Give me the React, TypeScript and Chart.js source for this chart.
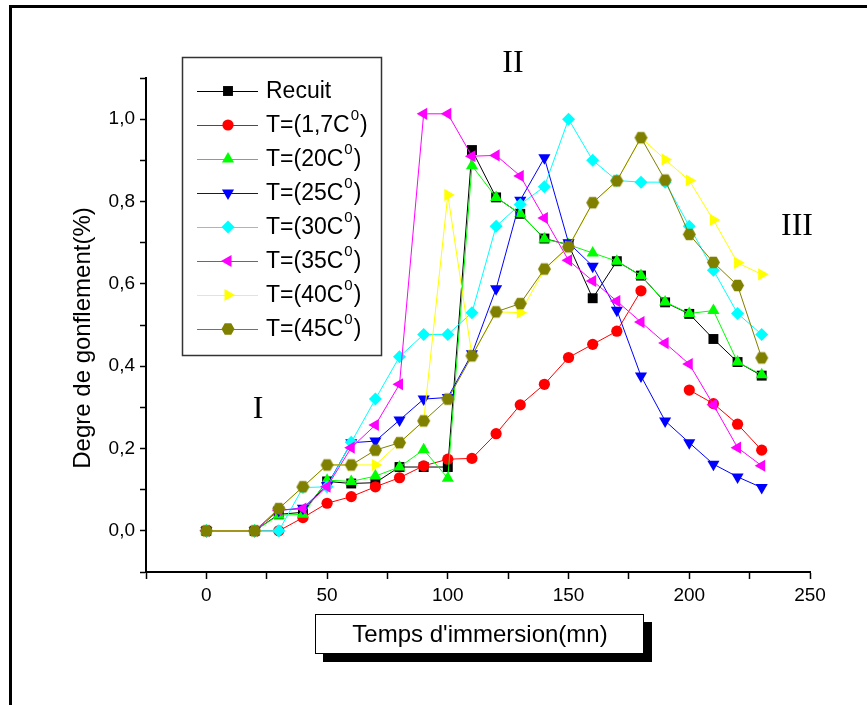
import React, { useEffect, useRef } from 'react';
import { Chart, registerables } from 'chart.js';

Chart.register(...registerables);

// Immersion times (mn)
const TIMES = [0, 20, 30, 40, 50, 60, 70, 80, 90, 100, 110, 120, 130, 140, 150, 160, 170, 180, 190, 200, 210, 220, 230];

// Degree of swelling (%) per series
const RECUIT = [0, 0, 0.04, 0.045, 0.12, 0.115, 0.117, 0.155, 0.155, 0.155, 0.925, 0.81, 0.77, 0.71, 0.695, 0.565, 0.655, 0.62, 0.555, 0.527, 0.466, 0.41, 0.377];
const T_1_7 = [0, 0, 0, 0.032, 0.067, 0.083, 0.107, 0.129, 0.158, 0.174, 0.176, 0.236, 0.306, 0.356, 0.421, 0.453, 0.485, 0.583, null, 0.342, 0.309, 0.259, 0.196];
const T_20 = [0, 0, 0.038, 0.04, 0.123, 0.12, 0.133, 0.155, 0.197, 0.128, 0.887, 0.81, 0.77, 0.709, 0.695, 0.675, 0.655, 0.62, 0.556, 0.528, 0.535, 0.41, 0.379];
const T_25 = [0, 0, 0.05, 0.055, 0.11, 0.214, 0.218, 0.269, 0.32, 0.324, 0.43, 0.588, 0.803, 0.906, 0.7, 0.643, 0.536, 0.376, 0.267, 0.214, 0.162, 0.131, 0.105];
const T_30 = [0, 0, 0, 0.105, 0.107, 0.215, 0.32, 0.423, 0.477, 0.477, 0.53, 0.74, 0.793, 0.836, 1.0, 0.9, 0.851, 0.847, 0.847, 0.74, 0.633, 0.528, 0.477];
const T_35 = [0, 0, 0.05, 0.054, 0.107, 0.202, 0.257, 0.356, 1.013, 1.013, 0.91, 0.912, 0.862, 0.76, 0.657, 0.607, 0.558, 0.507, 0.456, 0.405, 0.306, 0.202, 0.158];
const T_40 = [0, 0, 0.054, 0.107, 0.16, 0.16, 0.16, 0.214, 0.267, 0.816, 0.425, 0.532, 0.53, 0.635, 0.69, 0.797, 0.85, 0.955, 0.902, 0.851, 0.755, 0.651, 0.623];
const T_45 = [0, 0, 0.054, 0.107, 0.16, 0.16, 0.196, 0.214, 0.267, 0.32, 0.425, 0.532, 0.552, 0.636, 0.69, 0.797, 0.85, 0.955, 0.852, 0.72, 0.652, 0.596, 0.42];

// Legend labels: [main text, superscript, closing text]
const LABELS: [string, string, string][] = [
  ['Recuit', '', ''],
  ['T=(1,7C', '0', ')'],
  ['T=(20C', '0', ')'],
  ['T=(25C', '0', ')'],
  ['T=(30C', '0', ')'],
  ['T=(35C', '0', ')'],
  ['T=(40C', '0', ')'],
  ['T=(45C', '0', ')'],
];

const Y_TICKS_LABELLED = [0, 0.2, 0.4, 0.6, 0.8, 1.0];
const X_TICKS_LABELLED = [0, 50, 100, 150, 200, 250];

const SANS = "'Liberation Sans', Arial, sans-serif";
const SERIF = "'Liberation Serif', 'Times New Roman', serif";

type Shape = 'rect' | 'circle' | 'triangle' | 'rectRot' | 'hexagon';

interface SeriesStyle {
  values: (number | null)[];
  color: string;
  shape: Shape;
  rotation: number;
  radius: number;
}

const SERIES: SeriesStyle[] = [
  { values: RECUIT, color: '#000000', shape: 'rect', rotation: 0, radius: 7 },
  { values: T_1_7, color: '#ff0000', shape: 'circle', rotation: 0, radius: 5.6 },
  { values: T_20, color: '#00ff00', shape: 'triangle', rotation: 0, radius: 7 },
  { values: T_25, color: '#0000ff', shape: 'triangle', rotation: 180, radius: 7 },
  { values: T_30, color: '#00ffff', shape: 'rectRot', rotation: 0, radius: 6.5 },
  { values: T_35, color: '#ff00ff', shape: 'triangle', rotation: 270, radius: 7 },
  { values: T_40, color: '#ffff00', shape: 'triangle', rotation: 90, radius: 7 },
  { values: T_45, color: '#808000', shape: 'hexagon', rotation: 0, radius: 6.5 },
];

function shapePath(ctx: CanvasRenderingContext2D, shape: Shape, x: number, y: number, r: number, rotation: number) {
  ctx.beginPath();
  if (shape === 'circle') {
    ctx.arc(x, y, r, 0, Math.PI * 2);
  } else if (shape === 'rect') {
    const s = r * Math.SQRT1_2;
    ctx.rect(x - s, y - s, 2 * s, 2 * s);
  } else if (shape === 'rectRot') {
    ctx.moveTo(x - r, y);
    ctx.lineTo(x, y - r);
    ctx.lineTo(x + r, y);
    ctx.lineTo(x, y + r);
  } else if (shape === 'triangle') {
    let a = (rotation * Math.PI) / 180;
    ctx.moveTo(x + Math.sin(a) * r, y - Math.cos(a) * r);
    a += (2 * Math.PI) / 3;
    ctx.lineTo(x + Math.sin(a) * r, y - Math.cos(a) * r);
    a += (2 * Math.PI) / 3;
    ctx.lineTo(x + Math.sin(a) * r, y - Math.cos(a) * r);
  } else {
    for (let k = 0; k < 6; k++) {
      const a = (k * Math.PI) / 3;
      const px = x + Math.cos(a) * r;
      const py = y + Math.sin(a) * r;
      if (k === 0) ctx.moveTo(px, py);
      else ctx.lineTo(px, py);
    }
  }
  ctx.closePath();
}

function hexagonImage(r: number, color: string): HTMLCanvasElement {
  const c = document.createElement('canvas');
  const size = Math.ceil(2 * r + 2);
  c.width = size;
  c.height = size;
  const g = c.getContext('2d')!;
  g.fillStyle = color;
  shapePath(g, 'hexagon', size / 2, size / 2, r, 0);
  g.fill();
  return c;
}

const decorPlugin = {
  id: 'decor',
  beforeDraw(chart: Chart) {
    const ctx = chart.ctx;
    ctx.save();
    ctx.fillStyle = '#ffffff';
    ctx.fillRect(0, 0, chart.width, chart.height);
    ctx.restore();
  },
  afterDraw(chart: Chart) {
    const ctx = chart.ctx;
    ctx.save();

    // outer frame (top and left edges)
    ctx.fillStyle = '#000';
    ctx.fillRect(9, 5, chart.width - 9, 3);
    ctx.fillRect(9, 5, 3, chart.height - 5);

    // legend
    const lx = 182.5, ly = 57.5, lw = 199, lh = 298;
    ctx.fillStyle = '#fff';
    ctx.fillRect(lx, ly, lw, lh);
    ctx.strokeStyle = '#333';
    ctx.lineWidth = 1.5;
    ctx.strokeRect(lx, ly, lw, lh);
    LABELS.forEach((lab, i) => {
      const s = SERIES[i];
      const y = 91 + i * 34;
      ctx.strokeStyle = s.color;
      ctx.lineWidth = 1;
      ctx.beginPath();
      ctx.moveTo(197, y + 0.5);
      ctx.lineTo(258, y + 0.5);
      ctx.stroke();
      ctx.fillStyle = s.color;
      shapePath(ctx, s.shape, 228, y, s.radius, s.rotation);
      ctx.fill();
      ctx.fillStyle = '#000';
      ctx.textBaseline = 'middle';
      ctx.textAlign = 'left';
      ctx.font = `23px ${SANS}`;
      let tx = 266;
      ctx.fillText(lab[0], tx, y + 1);
      tx += ctx.measureText(lab[0]).width;
      if (lab[1]) {
        ctx.font = `15px ${SANS}`;
        ctx.fillText(lab[1], tx + 1, y - 9);
        tx += ctx.measureText(lab[1]).width + 2;
        ctx.font = `23px ${SANS}`;
        ctx.fillText(lab[2], tx, y + 1);
      }
    });

    // region numerals
    ctx.fillStyle = '#000';
    ctx.font = `32px ${SERIF}`;
    ctx.textAlign = 'center';
    ctx.textBaseline = 'middle';
    ctx.fillText('I', 258, 410);
    ctx.fillText('II', 513, 64);
    ctx.fillText('III', 797, 227);

    // y axis title
    ctx.save();
    ctx.translate(83, 338);
    ctx.rotate(-Math.PI / 2);
    ctx.font = `24px ${SANS}`;
    ctx.fillText('Degre de gonflement(%)', 0, 0);
    ctx.restore();

    // x axis title in a shadowed box
    ctx.fillStyle = '#000';
    ctx.fillRect(323, 622, 329, 40);
    ctx.fillStyle = '#fff';
    ctx.fillRect(315, 614, 329, 40);
    ctx.strokeStyle = '#000';
    ctx.lineWidth = 1;
    ctx.strokeRect(315.5, 614.5, 328, 39);
    ctx.fillStyle = '#000';
    ctx.font = `24px ${SANS}`;
    ctx.fillText("Temps d'immersion(mn)", 480, 635);

    ctx.restore();
  },
};

export default function App() {
  const canvasRef = useRef<HTMLCanvasElement>(null);

  useEffect(() => {
    const canvas = canvasRef.current;
    if (!canvas) return;

    const datasets = SERIES.map((s, i) => ({
      label: LABELS[i].join(''),
      data: TIMES.map((t, j) => ({ x: t, y: s.values[j] })),
      borderColor: s.color,
      backgroundColor: s.color,
      borderWidth: 1,
      pointStyle: s.shape === 'hexagon' ? hexagonImage(s.radius, s.color) : s.shape,
      pointRotation: s.rotation,
      pointRadius: s.radius,
      pointBorderWidth: 0,
      pointBackgroundColor: s.color,
      tension: 0,
      spanGaps: false,
      order: SERIES.length - i,
    }));

    const chart = new Chart(canvas, {
      type: 'line',
      data: { datasets: datasets as any },
      plugins: [decorPlugin as any],
      options: {
        animation: false,
        responsive: false,
        maintainAspectRatio: false,
        events: [],
        layout: { padding: { left: 0, right: 57, top: 78, bottom: 73 } },
        plugins: {
          legend: { display: false },
          tooltip: { enabled: false },
        },
        scales: {
          x: {
            type: 'linear',
            min: -25,
            max: 250,
            afterFit: (scale: any) => {
              scale.height = 60;
            },
            ticks: {
              stepSize: 25,
              autoSkip: false,
              maxRotation: 0,
              padding: 5,
              color: '#000',
              font: { family: SANS, size: 19 },
              callback: (v: any) => (X_TICKS_LABELLED.includes(Number(v)) ? String(v) : ''),
            },
            grid: {
              drawOnChartArea: false,
              drawTicks: true,
              tickLength: 7,
              tickColor: '#000',
              tickWidth: 1.5,
            },
            border: { display: true, color: '#000', width: 2 },
          },
          y: {
            type: 'linear',
            min: -0.1,
            max: 1.1,
            afterFit: (scale: any) => {
              scale.width = 146;
            },
            ticks: {
              stepSize: 0.1,
              autoSkip: false,
              padding: 5,
              color: '#000',
              font: { family: SANS, size: 19 },
              callback: (v: any) => {
                const n = Math.round(Number(v) * 10) / 10;
                return Y_TICKS_LABELLED.includes(n) ? n.toFixed(1).replace('.', ',') : '';
              },
            },
            grid: {
              drawOnChartArea: false,
              drawTicks: true,
              tickLength: 6,
              tickColor: '#000',
              tickWidth: 1.5,
            },
            border: { display: true, color: '#000', width: 2 },
          },
        },
      },
    });

    return () => chart.destroy();
  }, []);

  return (
    <div style={{ position: 'fixed', left: 0, top: 0, width: 867, height: 705, background: '#fff' }}>
      <canvas ref={canvasRef} width={867} height={705} style={{ display: 'block' }} />
    </div>
  );
}
